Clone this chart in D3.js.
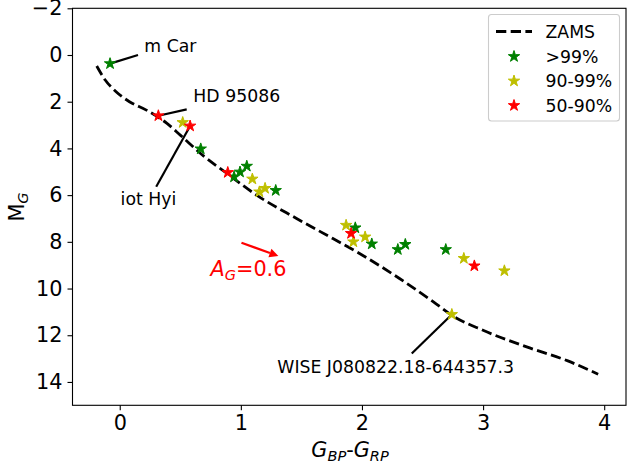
<!DOCTYPE html>
<html>
<head>
<meta charset="utf-8">
<script src="https://cdn.jsdelivr.net/npm/d3@7"></script>
<style>
  html, body { margin: 0; padding: 0; background: #fff; }
  svg { display: block; font-family: "DejaVu Sans", sans-serif; }
</style>
</head>
<body>
<svg id="chart" width="627" height="468"></svg>
<script>
// ---- data ----
const zamsColor = [-0.19, -0.12, -0.03, 0.08, 0.22, 0.39, 0.50, 0.70, 0.88, 1.13, 1.46, 1.76, 1.98, 2.31, 2.59, 2.74, 3.00, 3.36, 3.70, 3.95];
const zamsMag   = [0.47, 1.07, 1.57, 2.00, 2.36, 2.93, 3.43, 4.36, 5.05, 6.00, 7.00, 7.86, 8.50, 9.57, 10.57, 11.14, 11.79, 12.50, 13.10, 13.67];

const greenColor = [-0.08, 0.669, 0.944, 0.993, 1.049, 1.288, 1.945, 2.081, 2.296, 2.358, 2.692];
const greenMag   = [0.37, 4.02, 5.22, 5.01, 4.76, 5.80, 7.40, 8.09, 8.33, 8.11, 8.33];

const yellowColor = [0.520, 1.095, 1.153, 1.200, 1.869, 1.929, 2.026, 2.841, 3.176, 2.742];
const yellowMag   = [2.89, 5.31, 5.86, 5.71, 7.29, 8.00, 7.79, 8.71, 9.24, 11.11];

const redColor = [0.319, 0.581, 0.892, 1.910, 2.928];
const redMag   = [2.60, 3.04, 5.03, 7.64, 9.03];

const seriesNames = ["ZAMS", ">99%", "90-99%", "50-90%"];
const xTicks = [0, 1, 2, 3, 4];
const yTicks = [-2, 0, 2, 4, 6, 8, 10, 12, 14];

// annotations: star position, line end, text position (data units)
const annNames = ["m Car", "HD 95086", "iot Hyi", "WISE J080822.18-644357.3"];
const annStar  = [[-0.08, 0.37], [0.319, 2.60], [0.581, 3.04], [2.742, 11.11]];
const annEnd   = [[0.151, 0.0], [0.553, 2.33], [0.301, 5.64], [2.411, 12.78]];
const annText  = [[0.203, -0.13], [0.608, 2.00], [0.007, 6.44], [1.301, 13.61]];

const extArrowFrom = [1.005, 8.04];
const extArrowTo   = [1.31, 8.61];
const extLabelPos  = [0.749, 9.46];
const extValue = "0.6";

// ---- layout ----
const svg = d3.select("#chart");
const L = 72.5, R = 626, T = 8.3, B = 405.3;
const x = d3.scaleLinear().domain([-0.39, 4.18]).range([L, R]);
const y = d3.scaleLinear().domain([-2, 15]).range([T, B]);

const tickFont = 20.8, annFont = 17.3;
const colors = { green: "#008000", yellow: "#bfbf00", red: "#ff0000" };

// ZAMS
const zams = zamsColor.map((c, i) => [c, zamsMag[i]]);
const line = d3.line().x(d => x(d[0])).y(d => y(d[1])).curve(d3.curveMonotoneX);
svg.append("path").datum(zams).attr("d", line)
  .attr("fill", "none").attr("stroke", "#000").attr("stroke-width", 2.8)
  .attr("stroke-dasharray", "10.3,4.4");

// annotation lines
const annG = svg.append("g");
annNames.forEach((n, i) => {
  annG.append("line")
    .attr("x1", x(annStar[i][0])).attr("y1", y(annStar[i][1]))
    .attr("x2", x(annEnd[i][0])).attr("y2", y(annEnd[i][1]))
    .attr("stroke", "#000").attr("stroke-width", 2.2);
  annG.append("text")
    .attr("x", x(annText[i][0])).attr("y", y(annText[i][1]))
    .attr("font-size", annFont).attr("fill", "#000").text(n);
});

// stars
const star = d3.symbol().type(d3.symbolStar).size(40);
function drawStars(cs, ms, col) {
  svg.append("g").selectAll("path").data(cs.map((c, i) => [c, ms[i]])).join("path")
    .attr("d", star)
    .attr("transform", d => `translate(${x(d[0])},${y(d[1])}) rotate(0)`)
    .attr("fill", col).attr("stroke", col).attr("stroke-width", 1);
}
drawStars(greenColor, greenMag, colors.green);
drawStars(yellowColor, yellowMag, colors.yellow);
drawStars(redColor, redMag, colors.red);

// extinction arrow
(function () {
  const x1 = x(extArrowFrom[0]), y1 = y(extArrowFrom[1]);
  const x2 = x(extArrowTo[0]), y2 = y(extArrowTo[1]);
  const ang = Math.atan2(y2 - y1, x2 - x1);
  const hl = 9, hw = 4.5;
  const bx = x2 - hl * Math.cos(ang), by = y2 - hl * Math.sin(ang);
  svg.append("line").attr("x1", x1).attr("y1", y1).attr("x2", bx).attr("y2", by)
    .attr("stroke", colors.red).attr("stroke-width", 2.2);
  const px = -Math.sin(ang), py = Math.cos(ang);
  svg.append("path")
    .attr("d", `M${x2},${y2}L${bx + px * hw},${by + py * hw}L${bx - px * hw},${by - py * hw}Z`)
    .attr("fill", colors.red);
  const t = svg.append("text").attr("x", x(extLabelPos[0])).attr("y", y(extLabelPos[1]))
    .attr("font-size", tickFont).attr("fill", colors.red);
  t.append("tspan").attr("font-style", "italic").text("A");
  t.append("tspan").attr("font-style", "italic").attr("font-size", tickFont * 0.7).attr("dy", 4).text("G");
  t.append("tspan").attr("dy", -4).text("=" + extValue);
})();

// frame
svg.append("rect").attr("x", L).attr("y", T).attr("width", R - L).attr("height", B - T)
  .attr("fill", "none").attr("stroke", "#000").attr("stroke-width", 1.1);

// axes
const xAxis = svg.append("g").attr("transform", `translate(0,${B})`)
  .call(d3.axisBottom(x).tickValues(xTicks).tickSize(5).tickPadding(5).tickFormat(d3.format("d")));
const yAxis = svg.append("g").attr("transform", `translate(${L},0)`)
  .call(d3.axisLeft(y).tickValues(yTicks).tickSize(5).tickPadding(5).tickFormat(d => d < 0 ? "\u2212" + Math.abs(d) : String(d)));
[xAxis, yAxis].forEach(a => {
  a.select(".domain").remove();
  a.selectAll("line").attr("stroke", "#000").attr("stroke-width", 1.1);
  a.selectAll("text").attr("font-size", tickFont).attr("fill", "#000")
    .attr("font-family", "DejaVu Sans, sans-serif");
});

// axis labels
const xl = svg.append("text").attr("x", 350).attr("y", 457).attr("text-anchor", "middle")
  .attr("font-size", tickFont).attr("fill", "#000");
xl.append("tspan").attr("font-style", "italic").text("G");
xl.append("tspan").attr("font-style", "italic").attr("font-size", tickFont * 0.7).attr("dy", 4).text("BP");
xl.append("tspan").attr("dy", -4).text("-");
xl.append("tspan").attr("font-style", "italic").text("G");
xl.append("tspan").attr("font-style", "italic").attr("font-size", tickFont * 0.7).attr("dy", 4).text("RP");

const yl = svg.append("text").attr("transform", "translate(24,207) rotate(-90)")
  .attr("text-anchor", "middle").attr("font-size", tickFont).attr("fill", "#000");
yl.append("tspan").text("M");
yl.append("tspan").attr("font-style", "italic").attr("font-size", tickFont * 0.7).attr("dy", 4).text("G");

// legend
const lg = svg.append("g");
lg.append("rect").attr("x", 488.5).attr("y", 14.5).attr("width", 131).attr("height", 106.5)
  .attr("rx", 3).attr("fill", "#fff").attr("fill-opacity", 0.8)
  .attr("stroke", "#cccccc").attr("stroke-width", 1.1);
const legY = [31.5, 56.5, 81, 105.5];
const legCol = [null, colors.green, colors.yellow, colors.red];
seriesNames.forEach((n, i) => {
  if (i === 0) {
    lg.append("line").attr("x1", 496).attr("x2", 532).attr("y1", legY[i]).attr("y2", legY[i])
      .attr("stroke", "#000").attr("stroke-width", 2.8).attr("stroke-dasharray", "10.3,4.4");
  } else {
    lg.append("path").attr("d", star).attr("transform", `translate(514,${legY[i]})`)
      .attr("fill", legCol[i]).attr("stroke", legCol[i]).attr("stroke-width", 1);
  }
  lg.append("text").attr("x", 545.5).attr("y", legY[i] + 6.2).attr("font-size", annFont)
    .attr("fill", "#000").text(n);
});
</script>
</body>
</html>
